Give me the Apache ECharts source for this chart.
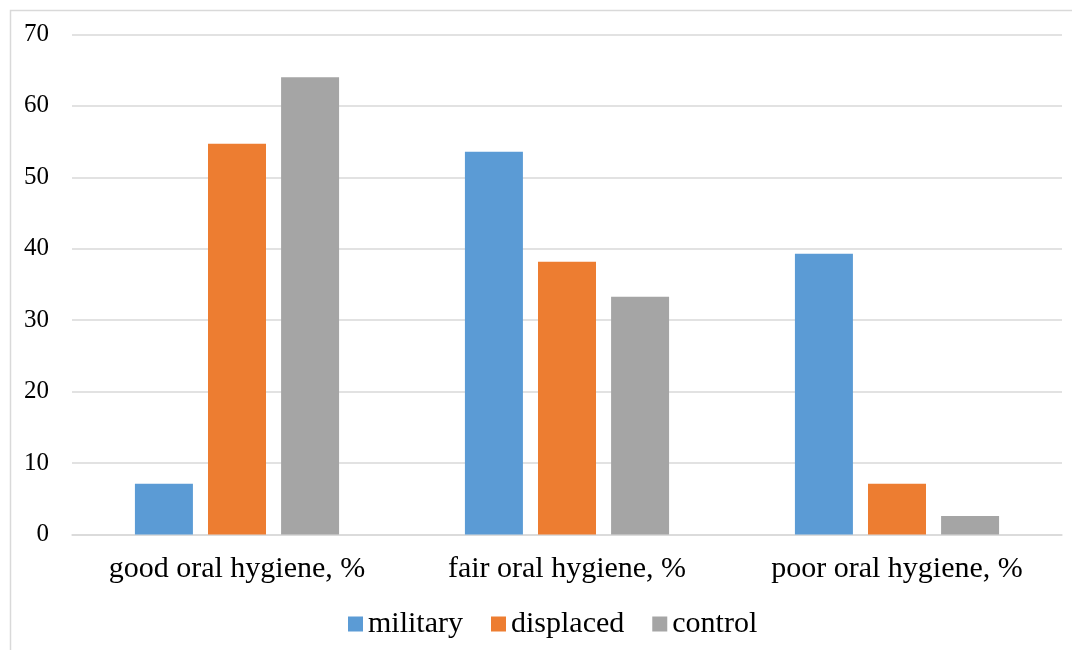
<!DOCTYPE html>
<html>
<head>
<meta charset="utf-8">
<script src="https://cdn.jsdelivr.net/npm/echarts@6/dist/echarts.min.js"></script>
<style>
  html, body { margin: 0; padding: 0; background: #ffffff; }
  #chart { width: 1072px; height: 650px; }
</style>
</head>
<body>
<div id="chart"></div>
<script>
// Oral hygiene status by group, percent of participants
const categories = ['good oral hygiene, %', 'fair oral hygiene, %', 'poor oral hygiene, %'];
const military = [7.1, 53.6, 39.3];
const displaced = [54.7, 38.2, 7.1];
const control = [64.0, 33.3, 2.6];
const yTicks = { min: 0, max: 70, interval: 10 };

const serif = '"Liberation Serif", "Times New Roman", serif';
const colors = ['#5B9BD5', '#ED7D31', '#A5A5A5'];

const chart = echarts.init(document.getElementById('chart'), null, { renderer: 'canvas' });

function barSeries(name, data, color) {
  return {
    name: name,
    type: 'bar',
    data: data,
    barWidth: 58,
    barGap: '26%',
    itemStyle: { color: color },
    emphasis: { disabled: true }
  };
}

chart.setOption({
  animation: false,
  color: colors,
  graphic: [{
    type: 'rect',
    shape: { x: 10.5, y: 10.5, width: 1080, height: 660 },
    style: { fill: 'none', stroke: '#d9d9d9', lineWidth: 1.5 },
    silent: true
  }],
  grid: { left: 72, right: 10, top: 34.5, bottom: 115.5, containLabel: false },
  legend: {
    data: ['military', 'displaced', 'control'],
    left: 343,
    top: 604,
    icon: 'rect',
    itemWidth: 15,
    itemHeight: 15,
    itemGap: 28,
    textStyle: { fontFamily: serif, fontSize: 30, color: '#000000' }
  },
  xAxis: {
    type: 'category',
    data: categories,
    axisLine: { show: true, lineStyle: { color: '#d9d9d9', width: 1.5 } },
    axisTick: { show: false },
    axisLabel: {
      interval: 0,
      hideOverlap: false,
      fontFamily: serif,
      fontSize: 30,
      color: '#000000',
      margin: 20
    }
  },
  yAxis: {
    type: 'value',
    min: yTicks.min,
    max: yTicks.max,
    interval: yTicks.interval,
    axisLine: { show: false },
    axisTick: { show: false },
    splitLine: { lineStyle: { color: '#d9d9d9', width: 1.5 } },
    axisLabel: { fontFamily: serif, fontSize: 25, color: '#000000', margin: 23 }
  },
  series: [
    barSeries('military', military, colors[0]),
    barSeries('displaced', displaced, colors[1]),
    barSeries('control', control, colors[2])
  ]
});
</script>
</body>
</html>
